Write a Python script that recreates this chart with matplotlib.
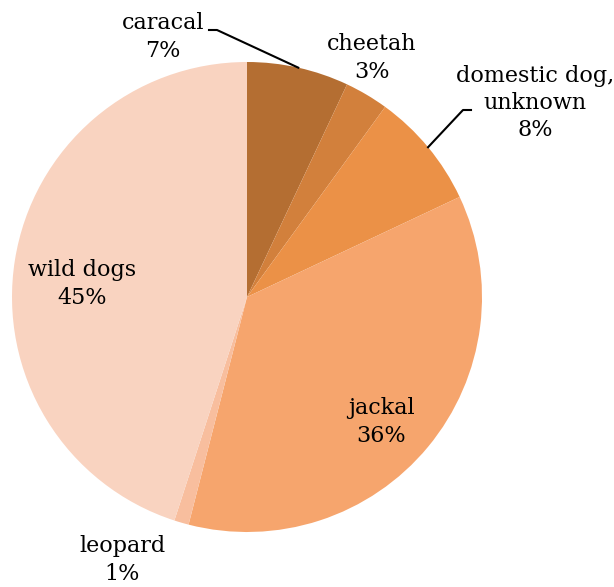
import numpy as np
import matplotlib.pyplot as plt

labels = ["caracal", "cheetah", "domestic dog,\nunknown", "jackal", "leopard", "wild dogs"]
shares = [7, 3, 8, 36, 1, 45]
colors = ["#B46E32", "#D2803C", "#EB9147", "#F6A56D", "#F8BE9E", "#F9D3C0"]

# label centres in pixels of the original picture (x, y from top)
label_px = [(163, 37), (372, 58), (535, 103), (381, 422), (122, 560), (82, 284)]
# elbow of leader lines (pixel), None = no leader
leader_px = [(217, 30), None, (463, 110), None, None, None]

W, H = 614, 587
cx, cy, R = 247, 297, 235

plt.rcParams["font.family"] = ["DejaVu Serif"]
fig = plt.figure(figsize=(W / 100, H / 100), dpi=100)
ax = fig.add_axes([(cx - R) / W, (H - cy - R) / H, 2 * R / W, 2 * R / H])
wedges, _ = ax.pie(shares, colors=colors, startangle=90, counterclock=False,
                   wedgeprops=dict(linewidth=0))
ax.set_xlim(-1, 1)
ax.set_ylim(-1, 1)
ax.set_aspect("equal")
ax.axis("off")


def to_data(p):
    return (p[0] - cx) / R, (cy - p[1]) / R


cum = np.cumsum([0] + shares)
for i, lab in enumerate(labels):
    tx, ty = to_data(label_px[i])
    ax.text(tx, ty, f"{lab}\n{shares[i]}%", ha="center", va="center",
            fontsize=16, linespacing=1.3, clip_on=False)
    if leader_px[i] is not None:
        mid = np.deg2rad(90 - 360 * (cum[i] + shares[i] / 2) / 100)
        ex, ey = np.cos(mid), np.sin(mid)
        kx, ky = to_data(leader_px[i])
        sx = kx - 8 / R if kx < ex else kx + 8 / R
        ax.plot([sx, kx, ex], [ky, ky, ey], color="black", lw=1.5, clip_on=False)

fig.savefig("out.png", dpi=100)
